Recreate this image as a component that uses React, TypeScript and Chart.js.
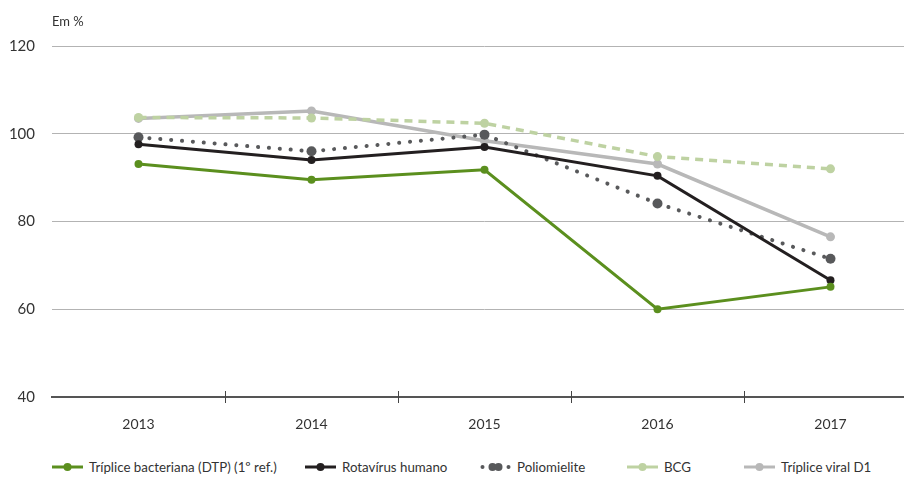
import React, { useEffect, useRef } from "react";
import { Chart, registerables } from "chart.js";

Chart.register(...registerables);

const categories = ["2013", "2014", "2015", "2016", "2017"];
const dtp = [93.1, 89.5, 91.8, 60.0, 65.1];
const rotavirus = [97.6, 94.0, 97.0, 90.4, 66.6];
const poliomielite = [99.2, 96.0, 99.8, 84.1, 71.5];
const bcg = [103.7, 103.6, 102.4, 94.8, 92.0];
const tripliceViral = [103.5, 105.2, 98.4, 93.1, 76.5];
const yTicks = [40, 60, 80, 100, 120];

const legendItems = [
  { label: "Tríplice bacteriana (DTP) (1º ref.)", color: "#5b8f1e", kind: "line", left: 52 },
  { label: "Rotavírus humano", color: "#231f20", kind: "line", left: 305 },
  { label: "Poliomielite", color: "#58595b", kind: "dots", left: 480 },
  { label: "BCG", color: "#bed2a2", kind: "line", left: 627 },
  { label: "Tríplice viral D1", color: "#b8b8b8", kind: "line", left: 744 },
];

const FONT = "Lato, 'Open Sans', sans-serif";

const boundaryTicks = {
  id: "boundaryTicks",
  afterDraw(chart: any) {
    const x = chart.scales.x;
    const y = chart.chartArea.bottom;
    const ctx = chart.ctx;
    ctx.save();
    ctx.strokeStyle = "#444";
    ctx.lineWidth = 1;
    for (let i = 0; i < categories.length - 1; i++) {
      const px = Math.round((x.getPixelForValue(i) + x.getPixelForValue(i + 1)) / 2) + 0.5;
      ctx.beginPath();
      ctx.moveTo(px, y - 6);
      ctx.lineTo(px, y + 6);
      ctx.stroke();
    }
    ctx.restore();
  },
};

export default function App() {
  const ref = useRef<HTMLCanvasElement>(null);
  useEffect(() => {
    if (!ref.current) return;
    const chart = new Chart(ref.current, {
      type: "line",
      data: {
        labels: categories,
        datasets: [
          {
            label: legendItems[0].label,
            data: dtp,
            borderColor: "#5b8f1e",
            backgroundColor: "#5b8f1e",
            borderWidth: 3,
            pointRadius: 4,
            pointBorderWidth: 0,
            order: 1,
          },
          {
            label: legendItems[1].label,
            data: rotavirus,
            borderColor: "#231f20",
            backgroundColor: "#231f20",
            borderWidth: 3,
            pointRadius: 4,
            pointBorderWidth: 0,
            order: 2,
          },
          {
            label: legendItems[2].label,
            data: poliomielite,
            borderColor: "#58595b",
            backgroundColor: "#58595b",
            borderWidth: 4,
            borderDash: [0.1, 10.8],
            borderCapStyle: "round",
            pointRadius: 5,
            pointBorderWidth: 0,
            order: 3,
          },
          {
            label: legendItems[3].label,
            data: bcg,
            borderColor: "#bed2a2",
            backgroundColor: "#bed2a2",
            borderWidth: 3.5,
            borderDash: [8, 6],
            pointRadius: 4.5,
            pointBorderWidth: 0,
            order: 4,
          },
          {
            label: legendItems[4].label,
            data: tripliceViral,
            borderColor: "#b8b8b8",
            backgroundColor: "#b8b8b8",
            borderWidth: 3.5,
            pointRadius: 4.5,
            pointBorderWidth: 0,
            order: 5,
          },
        ],
      },
      options: {
        animation: false,
        responsive: false,
        devicePixelRatio: 1,
        layout: { padding: { top: 46, right: 13, left: 0, bottom: 0 } },
        plugins: { legend: { display: false }, tooltip: { enabled: false } },
        elements: { line: { tension: 0 } },
        scales: {
          x: {
            offset: true,
            grid: { display: false },
            border: { display: true, color: "#555", width: 2 },
            ticks: { color: "#333", font: { family: FONT, size: 14 }, padding: 11 },
            afterFit(scale: any) {
              scale.height = 43;
            },
          },
          y: {
            min: 40,
            max: 120,
            afterBuildTicks(scale: any) {
              scale.ticks = yTicks.map((v) => ({ value: v }));
            },
            afterFit(scale: any) {
              scale.width = 52;
            },
            grid: {
              drawTicks: false,
              color: (c: any) => (c.tick && c.tick.value === 40 ? "rgba(0,0,0,0)" : "#b3b3b3"),
              lineWidth: 1,
            },
            border: { display: false },
            ticks: { color: "#333", font: { family: FONT, size: 15 }, padding: 17 },
          },
        },
      },
      plugins: [boundaryTicks],
    });
    return () => chart.destroy();
  }, []);

  return (
    <div
      style={{
        position: "absolute",
        top: 0,
        left: 0,
        width: 904,
        height: 480,
        overflow: "hidden",
        background: "#fff",
        fontFamily: FONT,
      }}
    >
      <canvas ref={ref} width={930} height={440} style={{ position: "absolute", top: 0, left: 0 }} />
      <div style={{ position: "absolute", left: 52, top: 13, fontSize: 13, color: "#333" }}>Em %</div>
      {legendItems.map((item) => (
        <div
          key={item.label}
          style={{
            position: "absolute",
            left: item.left,
            top: 459,
            height: 16,
            display: "flex",
            alignItems: "center",
            fontSize: 13.3,
            color: "#333",
            whiteSpace: "nowrap",
          }}
        >
          <svg width={31} height={12} style={{ marginRight: 6 }}>
            {item.kind === "line" ? (
              <>
                <line x1={0} y1={6} x2={31} y2={6} stroke={item.color} strokeWidth={3} />
                <circle cx={15.5} cy={6} r={4} fill={item.color} />
              </>
            ) : (
              <>
                <circle cx={2.5} cy={6} r={2} fill={item.color} />
                <circle cx={12.5} cy={6} r={4} fill={item.color} />
                <circle cx={18.5} cy={6} r={4} fill={item.color} />
                <circle cx={28.5} cy={6} r={2} fill={item.color} />
              </>
            )}
          </svg>
          <span>{item.label}</span>
        </div>
      ))}
    </div>
  );
}
